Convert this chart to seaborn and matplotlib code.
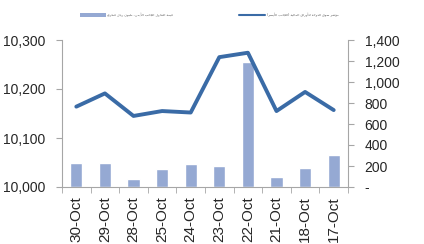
import unicodedata
import numpy as np
import pandas as pd
import matplotlib
matplotlib.use("Agg")
import matplotlib.pyplot as plt
from matplotlib.patches import Patch
from matplotlib.lines import Line2D
from matplotlib.ticker import FuncFormatter
import seaborn as sns

dates = ['30-Oct', '29-Oct', '28-Oct', '25-Oct', '24-Oct', '23-Oct', '22-Oct', '21-Oct', '18-Oct', '17-Oct']
index_level = [10164, 10191, 10145, 10155, 10152, 10265, 10274, 10155, 10194, 10157]
value_traded = [231, 231, 73, 168, 222, 200, 1187, 95, 181, 305]
bar_label = 'قيمة التداول الجانب الأيمن- مليون ريال قطري'
line_label = 'مؤشر سوق الدوحة للأوراق المالية (الجانب الأيسر)'

BAR_COLOR = '#95A9D3'
LINE_COLOR = '#3A6BA6'
GREY = '#A6A6A6'


def form(c, f):
    try:
        return unicodedata.lookup(unicodedata.name(c) + ' ' + f + ' FORM')
    except (KeyError, ValueError):
        return None


def shape_arabic(text):
    # matplotlib has no arabic shaping / bidi, so do a crude version here
    out = []
    for i, c in enumerate(text):
        prev = text[i - 1] if i > 0 else ' '
        nxt = text[i + 1] if i < len(text) - 1 else ' '
        before = form(prev, 'INITIAL') is not None and form(c, 'FINAL') is not None
        after = form(c, 'INITIAL') is not None and form(nxt, 'FINAL') is not None
        if before and after and form(c, 'MEDIAL'):
            g = form(c, 'MEDIAL')
        elif before:
            g = form(c, 'FINAL')
        elif after:
            g = form(c, 'INITIAL')
        else:
            g = form(c, 'ISOLATED') or c
        out.append(g)
    s = ''.join(reversed(out))
    return s.translate(str.maketrans('()', ')('))


df = pd.DataFrame({'date': dates, 'index': index_level, 'value': value_traded})

sns.set_style('white')
plt.rcParams['font.family'] = ['Liberation Sans', 'DejaVu Sans']

fig = plt.figure(figsize=(4.24, 2.44), dpi=100)
ax = fig.add_axes([62 / 424, 1 - 187 / 244, (348 - 62) / 424, (187 - 40) / 244])
ax2 = ax.twinx()

sns.barplot(data=df, x='date', y='value', ax=ax2, color=BAR_COLOR, width=0.42, saturation=1)
sns.lineplot(data=df, x='date', y='index', ax=ax, color=LINE_COLOR, linewidth=2.8, sort=False)

# line above the bars
ax.set_zorder(ax2.get_zorder() + 1)
ax.patch.set_visible(False)

ax.set_xlim(-0.5, 9.5)
ax2.set_xlim(-0.5, 9.5)
ax.set_ylim(10000, 10300)
ax.set_yticks([10000, 10100, 10200, 10300])
ax.yaxis.set_major_formatter(FuncFormatter(lambda v, p: f'{v:,.0f}'))
ax2.set_ylim(0, 1400)
ax2.set_yticks(np.arange(0, 1401, 200))
ax2.yaxis.set_major_formatter(FuncFormatter(lambda v, p: '-' if v == 0 else f'{v:,.0f}'))

ax.set_xticks(range(len(dates)))
ax.set_xticklabels(dates, rotation=90, fontsize=11)
ax.set_xticks(np.arange(-0.5, len(dates), 1), minor=True)
ax.tick_params(axis='x', which='major', length=0, pad=7)
ax.tick_params(axis='x', which='minor', length=4, color=GREY, direction='out', bottom=True)
ax.tick_params(axis='y', length=4, color=GREY, direction='out', labelsize=10, pad=8, left=True)
ax2.tick_params(axis='y', length=4, color=GREY, direction='out', labelsize=10, pad=8, right=True)

for a in (ax, ax2):
    a.set_xlabel('')
    a.set_ylabel('')
    for s in a.spines.values():
        s.set_visible(False)
ax.spines['left'].set_visible(True)
ax.spines['bottom'].set_visible(True)
ax2.spines['right'].set_visible(True)
for s in (ax.spines['left'], ax.spines['bottom'], ax2.spines['right']):
    s.set_color(GREY)
    s.set_linewidth(0.8)

handles = [Patch(facecolor=BAR_COLOR, edgecolor='none'),
           Line2D([], [], color=LINE_COLOR, linewidth=1.5)]
fig.legend(handles, [shape_arabic(bar_label), shape_arabic(line_label)],
           loc='center', bbox_to_anchor=(209 / 424, 1 - 15 / 244), ncol=2,
           frameon=False, labelcolor='#555555',
           prop={'family': 'DejaVu Sans', 'size': 2.4},
           handlelength=7.8, handleheight=1.3, handletextpad=0.4, columnspacing=20)

fig.savefig('out.png', dpi=100)
